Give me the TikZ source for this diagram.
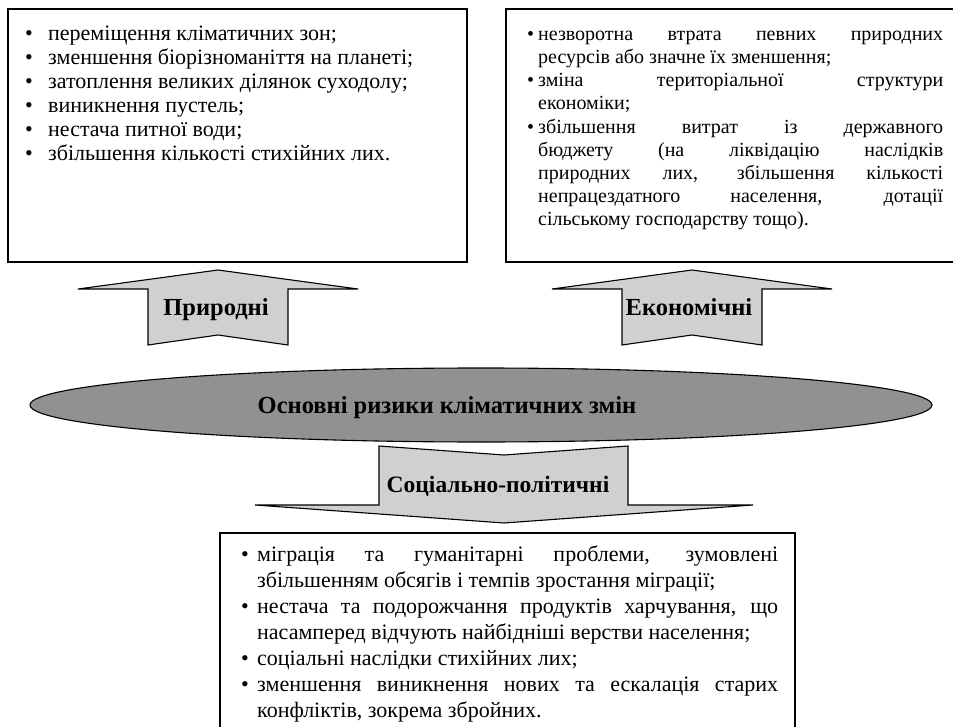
\documentclass[tikz,border=0pt]{standalone}
\usepackage{fontspec}
\setmainfont{Liberation Serif}
\definecolor{arrowgray}{RGB}{208,208,208}
\definecolor{ovalgray}{RGB}{145,145,145}
% bullet line with hanging indent
\newcommand{\bitem}[2]{\par\noindent\hangindent=#1\hangafter=1\makebox[#1][l]{\textbullet}#2\par}
\begin{document}
\begin{tikzpicture}[x=1pt, y=-1pt, line join=miter,
		txtbox/.style={draw, line width=1.4pt},
		blockarrow/.style={draw, fill=arrowgray, line width=1.1pt},
		lbl/.style={font=\bfseries\fontsize{24.5}{28}\selectfont, inner sep=0pt, anchor=base},
		items/.style={anchor=north west, inner sep=0pt, align=justify, font=\fontsize{22}{24}\selectfont}]
	\tikzset{upar/.pic={
			\draw[blockarrow] (-70,75)--(-70,19)--(-140,19)--(0,0)--(140,19)--(70,19)--(70,75)--(0,65)--cycle;
	}}
	\useasboundingbox (0,0) rectangle (953,727);
	\clip (0,0) rectangle (953,727);
	% boxes
	\draw[txtbox] (8,9) rectangle (467,262);
	\draw[txtbox] (506,9) rectangle (962,262);
	\draw[txtbox] (220,533) rectangle (795,740);
	\node[items, text width=430pt] (nat) at (25,16) {%
		\bitem{23pt}{переміщення кліматичних зон;}
		\bitem{23pt}{зменшення біорізноманіття на планеті;}
		\bitem{23pt}{затоплення великих ділянок суходолу;}
		\bitem{23pt}{виникнення пустель;}
		\bitem{23pt}{нестача питної води;}
		\bitem{23pt}{збільшення кількості стихійних лих.}};
	\node[items, text width=416pt, font=\fontsize{20}{23.2}\selectfont] (eco) at (527,17) {%
		\bitem{11pt}{незворотна втрата певних природних\linebreak ресурсів або значне їх зменшення;}
		\bitem{11pt}{зміна територіальної структури\linebreak економіки;}
		\bitem{11pt}{збільшення витрат із державного\linebreak бюджету (на ліквідацію наслідків\linebreak природних лих, збільшення кількості\linebreak непрацездатного населення, дотації\linebreak сільському господарству тощо).}};
	\node[items, text width=537pt, font=\fontsize{22}{26}\selectfont] (soc) at (241,535) {%
		\bitem{16pt}{міграція та гуманітарні проблеми, зумовлені\linebreak збільшенням обсягів і темпів зростання міграції;}
		\bitem{16pt}{нестача та подорожчання продуктів харчування, що\linebreak насамперед відчують найбідніші верстви населення;}
		\bitem{16pt}{соціальні наслідки стихійних лих;}
		\bitem{16pt}{зменшення виникнення нових та ескалація старих\linebreak конфліктів, зокрема збройних.}};
	% arrows
	\draw (218,270) pic{upar};
	\draw (692,270) pic{upar};
	\draw[blockarrow] (379,446)--(504,455)--(628,446)--(628,505)--(753,505)--(504,523)--(255,505)--(379,505)--cycle;
	\node[lbl] (prir) at (216,316) {Природні};
	\node[lbl] (ekon) at (689,316) {Економічні};
	\node[lbl, font=\bfseries\fontsize{23.5}{26}\selectfont] (sopo) at (498,492) {Соціально-політичні};
	% oval
	\draw[fill=ovalgray, line width=1.1pt] (481,405) ellipse [x radius=451, y radius=37];
	\node[lbl] (risk) at (447,413) {Основні ризики кліматичних змін};
\end{tikzpicture}
\end{document}
